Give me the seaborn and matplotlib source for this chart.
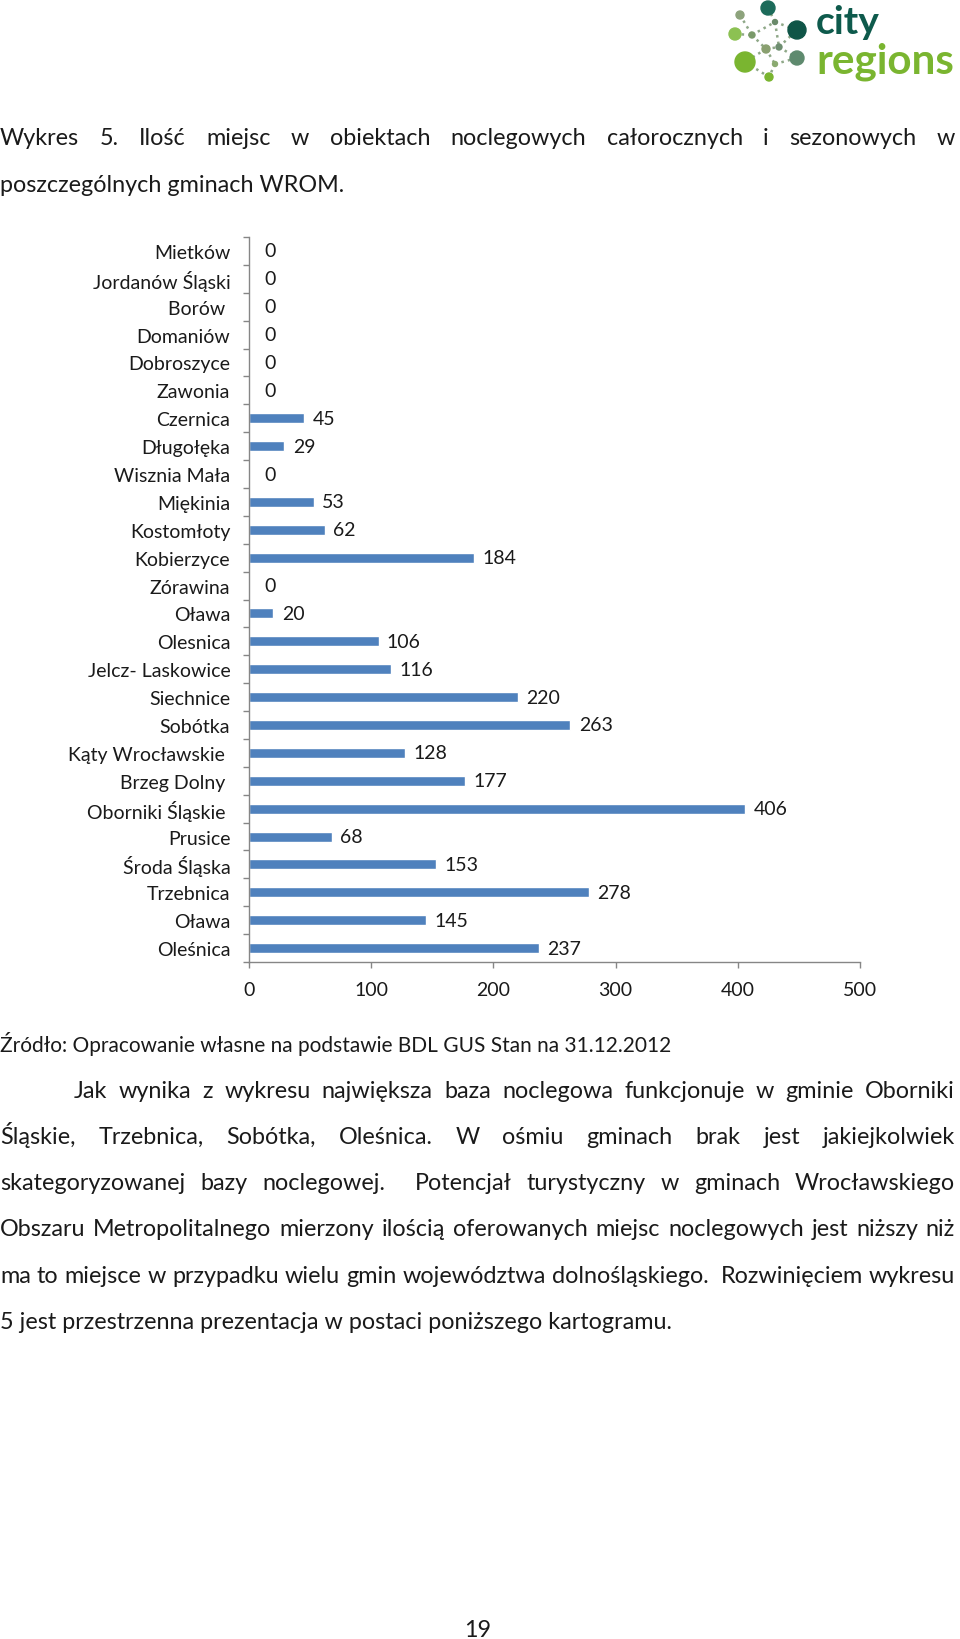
import matplotlib
matplotlib.use('Agg')
import matplotlib.pyplot as plt
from matplotlib.patches import Circle
import numpy as np
import pandas as pd
import seaborn as sns

# dane z wykresu
gminy = ['Mietków', 'Jordanów Śląski', 'Borów ', 'Domaniów', 'Dobroszyce', 'Zawonia',
         'Czernica', 'Długołęka', 'Wisznia Mała', 'Miękinia', 'Kostomłoty', 'Kobierzyce',
         'Zórawina', 'Oława', 'Olesnica', 'Jelcz- Laskowice', 'Siechnice', 'Sobótka',
         'Kąty Wrocławskie ', 'Brzeg Dolny ', 'Oborniki Śląskie ', 'Prusice', 'Środa Śląska',
         'Trzebnica', 'Oława', 'Oleśnica']
miejsca = [0, 0, 0, 0, 0, 0, 45, 29, 0, 53, 62, 184, 0, 20, 106, 116, 220, 263, 128, 177,
           406, 68, 153, 278, 145, 237]
x_ticks = [0, 100, 200, 300, 400, 500]

tytul = ['Wykres 5. Ilość miejsc w obiektach noclegowych całorocznych i sezonowych w',
         'poszczególnych gminach WROM.']
zrodlo = 'Źródło: Opracowanie własne na podstawie BDL GUS Stan na 31.12.2012'
akapit = ['Jak wynika z wykresu największa baza noclegowa funkcjonuje w gminie Oborniki',
          'Śląskie, Trzebnica, Sobótka, Oleśnica. W ośmiu gminach brak jest jakiejkolwiek',
          'skategoryzowanej bazy noclegowej.  Potencjał turystyczny w gminach Wrocławskiego',
          'Obszaru Metropolitalnego mierzony ilością oferowanych miejsc noclegowych jest niższy niż',
          'ma to miejsce w przypadku wielu gmin województwa dolnośląskiego.  Rozwinięciem wykresu',
          '5 jest przestrzenna prezentacja w postaci poniższego kartogramu.']
strona = '19'

W, H = 960, 1640
sns.set_theme(style='white')
plt.rcParams['font.family'] = ['Lato', 'DejaVu Sans']

fig = plt.figure(figsize=(W / 100, H / 100), dpi=100)
fig.patch.set_facecolor('white')
r = fig.canvas.get_renderer()
TXT = '#1a1a1a'


def fy(y):
    return 1 - y / H


def fit_size(s, target, weight='normal'):
    t = fig.text(0, 0, s, fontsize=20, fontweight=weight)
    w = t.get_window_extent(r).width
    t.remove()
    return 20 * target / w


# rozmiar tekstu tak, by najdluzsza linia akapitu miala prawie pelna szerokosc
BODY = fit_size(akapit[3], 940)
OFF = BODY * 0.33 + 2  # od srodka linii do linii bazowej, px


def justify(line, y, left, right, size):
    words = line.split(' ')
    texts = [fig.text(0, fy(y + OFF), w, fontsize=size, va='baseline', color=TXT) for w in words]
    widths = [t.get_window_extent(r).width if w else 0 for t, w in zip(texts, words)]
    gap = (right - left - sum(widths)) / (len(words) - 1)
    x = left
    for t, w in zip(texts, widths):
        t.set_x(x / W)
        x += w + gap


def plain(line, y, x, size, ha='left'):
    fig.text(x / W, fy(y + OFF), line, fontsize=size, va='baseline', ha=ha, color=TXT)


# --- logo ---
lax = fig.add_axes([725 / W, fy(88), 235 / W, 88 / H])
lax.set_xlim(725, 960)
lax.set_ylim(88, 0)
lax.axis('off')
nodes = {'A': (768, 9, 7, '#1d6b5a'), 'B': (797, 31, 9, '#0f5547'), 'C': (740, 16, 4, '#8da37c'),
         'D': (735, 35, 6, '#8cc152'), 'E': (745, 63, 10, '#7ab530'), 'F': (797, 59, 7, '#5e8a6e'),
         'G': (769, 78, 4, '#7ab530'), 'H': (752, 36, 3, '#7a9a6a'), 'I': (775, 23, 2.5, '#6a8a6a'),
         'J': (766, 50, 4, '#8aa070'), 'K': (779, 48, 3, '#6e8e70'), 'L': (775, 65, 2.5, '#8aaa70')}
edges = ['CH', 'DH', 'HI', 'IB', 'IA', 'HJ', 'JK', 'KB', 'JE', 'JL', 'LF', 'KF', 'LG', 'EG', 'IK']
for a, b in edges:
    lax.plot([nodes[a][0], nodes[b][0]], [nodes[a][1], nodes[b][1]], ls=':', lw=1.8,
             color='#8fa888', zorder=1)
for x, y, rad, c in nodes.values():
    lax.add_patch(Circle((x, y), rad, color=c, zorder=2))
for word, y, c, target in [('city', 22, '#0e5a4c', 64), ('regions', 62, '#7ab530', 138)]:
    lax.text(816, y, word, fontsize=fit_size(word, target, 'bold'), fontweight='bold',
             color=c, va='center')

# --- tytul ---
justify(tytul[0], 137, 0, 955, BODY)
plain(tytul[1], 184, 0, BODY)

# --- wykres ---
ax = fig.add_axes([249 / W, fy(963), 611 / W, 725 / H])
df = pd.DataFrame({'gmina': gminy, 'miejsca': miejsca})
df['poz'] = [str(i) for i in range(len(df))]
sns.barplot(data=df, x='miejsca', y='poz', order=df['poz'], color='#4f81bd', saturation=1,
            width=0.36, ax=ax)
n = len(gminy)
ax.set_ylim(n - 0.5, -0.5)
ax.set_xlim(0, 500)
ax.set_xticks(x_ticks)
ax.set_yticks(range(n))
ax.set_yticklabels(gminy)
ax.set_yticks(np.arange(-0.5, n), minor=True)
ax.set_xlabel('')
ax.set_ylabel('')
for s in ['top', 'right']:
    ax.spines[s].set_visible(False)
for s in ['left', 'bottom']:
    ax.spines[s].set_color('#868686')
    ax.spines[s].set_linewidth(1)
ax.tick_params(axis='y', which='major', length=0, pad=13.5, labelsize=14, labelcolor=TXT)
ax.tick_params(axis='y', which='minor', left=True, length=4, width=1, color='#868686')
ax.tick_params(axis='x', which='major', bottom=True, direction='out', length=4, width=1,
               color='#868686', pad=10, labelsize=14, labelcolor=TXT)
ax.grid(False)
ax.patch.set_alpha(0)

for i, v in enumerate(miejsca):
    ax.annotate(str(v), xy=(v, i), xytext=(6 if v else 11, 0), textcoords='offset points',
                ha='left', va='center', fontsize=14, color=TXT)

# --- tekst pod wykresem ---
plain(zrodlo, 1044, 0, fit_size(zrodlo, 672))
justify(akapit[0], 1090, 74, 955, BODY)
for k, y in zip(range(1, 5), [1136, 1182, 1228, 1275]):
    justify(akapit[k], y, 0, 955, BODY)
plain(akapit[5], 1321, 0, BODY)
plain(strona, 1629, 478, BODY, ha='center')

fig.savefig('out.png', dpi=100, facecolor='white')
